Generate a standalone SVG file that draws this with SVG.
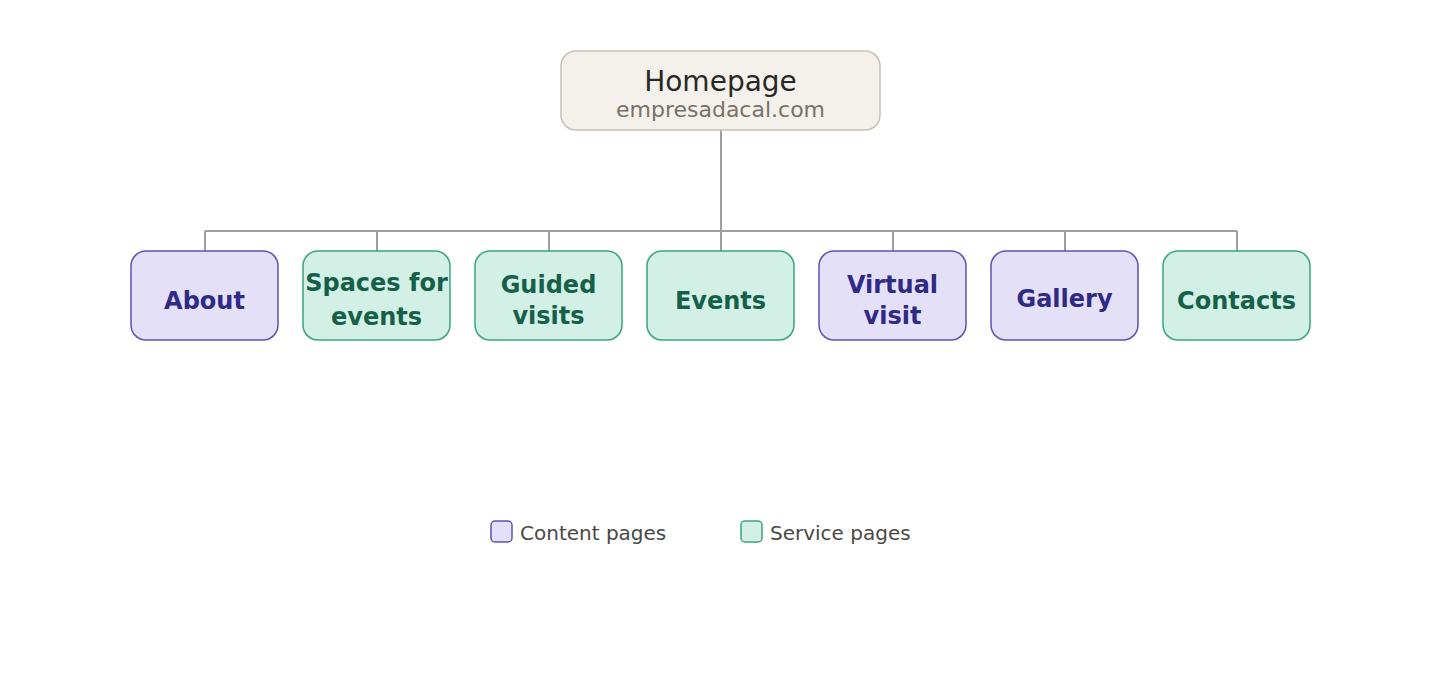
<svg xmlns="http://www.w3.org/2000/svg" width="1440" height="680" viewBox="0 0 1440 680">
<style>
.content rect{fill:#e4e0f7;stroke:#5f52b8;stroke-width:1.5}
.service rect{fill:#d2f0e5;stroke:#3aa385;stroke-width:1.5}
.content text{fill:#2e2a85}
.service text{fill:#16604a}
.lbl{font-family:"DejaVu Sans",sans-serif;font-weight:bold;font-size:24px;text-anchor:middle}
.conn{stroke:#9e9e9e;stroke-width:2;fill:none}
.leg{font-family:"DejaVu Sans",sans-serif;font-size:20px;fill:#4a4845}
</style>
<rect width="1440" height="680" fill="#ffffff"/>
<g id="connectors" class="conn">
<path d="M721 130V231M205 231H1237M205 231V251M377 231V251M549 231V251M721 231V251M893 231V251M1065 231V251M1237 231V251"/>
</g>
<g id="homepage">
<rect x="561" y="51" width="319" height="79" rx="15" fill="#f4f1ec" stroke="#c7c0b5" stroke-width="1.5"/>
<text x="720.5" y="91" font-family="DejaVu Sans,sans-serif" font-size="28" fill="#2a2826" text-anchor="middle">Homepage</text>
<text x="720.5" y="117" font-family="DejaVu Sans,sans-serif" font-size="22" fill="#77716a" text-anchor="middle">empresadacal.com</text>
</g>
<g id="about" class="content"><rect x="131" y="251" width="147" height="89" rx="15"/><text class="lbl" x="204.5" y="309">About</text></g>
<g id="spaces" class="service"><rect x="303" y="251" width="147" height="89" rx="15"/><text class="lbl" x="376.5" y="291">Spaces for</text><text class="lbl" x="376.5" y="325">events</text></g>
<g id="guided" class="service"><rect x="475" y="251" width="147" height="89" rx="15"/><text class="lbl" x="548.5" y="293">Guided</text><text class="lbl" x="548.5" y="324">visits</text></g>
<g id="events" class="service"><rect x="647" y="251" width="147" height="89" rx="15"/><text class="lbl" x="720.5" y="309">Events</text></g>
<g id="virtual" class="content"><rect x="819" y="251" width="147" height="89" rx="15"/><text class="lbl" x="892.5" y="293">Virtual</text><text class="lbl" x="892.5" y="324">visit</text></g>
<g id="gallery" class="content"><rect x="991" y="251" width="147" height="89" rx="15"/><text class="lbl" x="1064.5" y="307">Gallery</text></g>
<g id="contacts" class="service"><rect x="1163" y="251" width="147" height="89" rx="15"/><text class="lbl" x="1236.5" y="309">Contacts</text></g>
<g id="legend">
<g class="content"><rect x="491" y="521" width="21" height="21" rx="4"/></g>
<text class="leg" x="520" y="540">Content pages</text>
<g class="service"><rect x="741" y="521" width="21" height="21" rx="4"/></g>
<text class="leg" x="770" y="540">Service pages</text>
</g>
</svg>
